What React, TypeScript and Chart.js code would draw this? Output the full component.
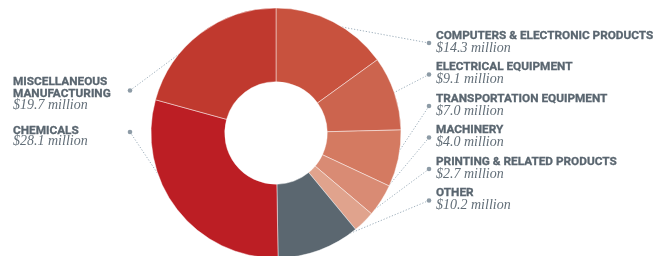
import React, { useEffect, useRef } from "react";
import { Chart, registerables } from "chart.js";

Chart.register(...registerables);

// ---- data ----
const categories = [
  "COMPUTERS & ELECTRONIC PRODUCTS",
  "ELECTRICAL EQUIPMENT",
  "TRANSPORTATION EQUIPMENT",
  "MACHINERY",
  "PRINTING & RELATED PRODUCTS",
  "OTHER",
  "CHEMICALS",
  "MISCELLANEOUS\nMANUFACTURING",
];
const values = [14.3, 9.1, 7.0, 4.0, 2.7, 10.2, 28.1, 19.7];
const sliceColors = [
  "#c8523e",
  "#cc644e",
  "#d47a61",
  "#d98b74",
  "#e0a38d",
  "#5b6770",
  "#bc1e24",
  "#c0392e",
];

const fmt = (v: number) => `$${v.toFixed(1)} million`;

// ---- layout (page coordinates) ----
const W = 662;
const H = 256;
const CANVAS_H = 270;
const CX = 276;
const CY = 133;
const R = 125;

const TEXT_COLOR = "#5a6670";
const VALUE_COLOR = "#626e78";
const LINE_COLOR = "#a2b2be";
const DOT_COLOR = "#8d9ba6";

type Slot = { x: number; titleBase: number; valueBase: number; dot: [number, number] };
const rightSlot = (i: number): Slot => ({
  x: 436,
  titleBase: 39 + 31.5 * i,
  valueBase: 52.5 + 31.5 * i,
  dot: [429, 43 + 31.5 * i],
});
const slots: Slot[] = [
  rightSlot(0),
  rightSlot(1),
  rightSlot(2),
  rightSlot(3),
  rightSlot(4),
  rightSlot(5),
  { x: 13, titleBase: 134.3, valueBase: 146, dot: [130, 132] },
  { x: 13, titleBase: 85, valueBase: 109.3, dot: [130, 90.5] },
];

const TITLE_FONT_SIZE = 11.8;
const TITLE_LINE = 11.7;
const TITLE_BASE_OFF = 10.03;
const VALUE_BASE_OFF = 11.72;

const leaderPlugin = {
  id: "leaders",
  beforeDatasetsDraw(chart: any) {
    const meta = chart.getDatasetMeta(0);
    const ctx = chart.ctx as CanvasRenderingContext2D;
    ctx.save();
    ctx.strokeStyle = LINE_COLOR;
    ctx.lineWidth = 1;
    ctx.setLineDash([1.3, 1.7]);
    meta.data.forEach((arc: any, i: number) => {
      const p = arc.getProps(["x", "y", "startAngle", "endAngle", "outerRadius"], true);
      const mid = (p.startAngle + p.endAngle) / 2;
      const tx = p.x + Math.cos(mid) * p.outerRadius * 0.97;
      const ty = p.y + Math.sin(mid) * p.outerRadius * 0.97;
      const [dx, dy] = slots[i].dot;
      ctx.beginPath();
      ctx.moveTo(dx, dy);
      ctx.lineTo(tx, ty);
      ctx.stroke();
    });
    ctx.restore();
  },
  afterDatasetsDraw(chart: any) {
    const ctx = chart.ctx as CanvasRenderingContext2D;
    ctx.save();
    ctx.fillStyle = DOT_COLOR;
    slots.forEach((s) => {
      ctx.beginPath();
      ctx.arc(s.dot[0], s.dot[1], 2.3, 0, Math.PI * 2);
      ctx.fill();
    });
    ctx.restore();
  },
};

export default function App() {
  const ref = useRef<HTMLCanvasElement | null>(null);

  useEffect(() => {
    if (!ref.current) return;
    const chart = new Chart(ref.current, {
      type: "doughnut",
      data: {
        labels: categories,
        datasets: [
          {
            data: values,
            backgroundColor: sliceColors,
            borderColor: "rgba(255,255,255,0.45)",
            borderWidth: 1,
          },
        ],
      },
      options: {
        responsive: false,
        animation: false,
        devicePixelRatio: 1,
        radius: R,
        cutout: "41%",
        rotation: 0,
        layout: {
          padding: {
            left: CX - R,
            right: W - (CX + R),
            top: CY - R,
            bottom: CANVAS_H - (CY + R),
          },
        },
        plugins: {
          legend: { display: false },
          tooltip: { enabled: false },
        },
        events: [],
      } as any,
      plugins: [leaderPlugin],
    });
    return () => chart.destroy();
  }, []);

  return (
    <div
      style={{
        position: "absolute",
        left: 0,
        top: 0,
        width: W,
        height: H,
        overflow: "hidden",
        background: "#ffffff",
      }}
    >
      <canvas ref={ref} width={W} height={CANVAS_H} style={{ position: "absolute", left: 0, top: 0 }} />
      {categories.map((cat, i) => {
        const s = slots[i];
        const lines = cat.split("\n");
        return (
          <React.Fragment key={i}>
            {lines.map((ln, j) => (
              <div
                key={j}
                style={{
                  position: "absolute",
                  left: s.x,
                  top: s.titleBase - TITLE_BASE_OFF + j * TITLE_LINE,
                  font: `700 ${TITLE_FONT_SIZE}px Roboto`,
                  lineHeight: "12px",
                  color: TEXT_COLOR,
                  whiteSpace: "nowrap",
                  WebkitTextStroke: `0.3px ${TEXT_COLOR}`,
                }}
              >
                {ln}
              </div>
            ))}
            <div
              style={{
                position: "absolute",
                left: s.x,
                top: s.valueBase - VALUE_BASE_OFF,
                font: `italic 14px "Liberation Serif"`,
                lineHeight: "14px",
                color: VALUE_COLOR,
                whiteSpace: "nowrap",
              }}
            >
              {fmt(values[i])}
            </div>
          </React.Fragment>
        );
      })}
    </div>
  );
}
